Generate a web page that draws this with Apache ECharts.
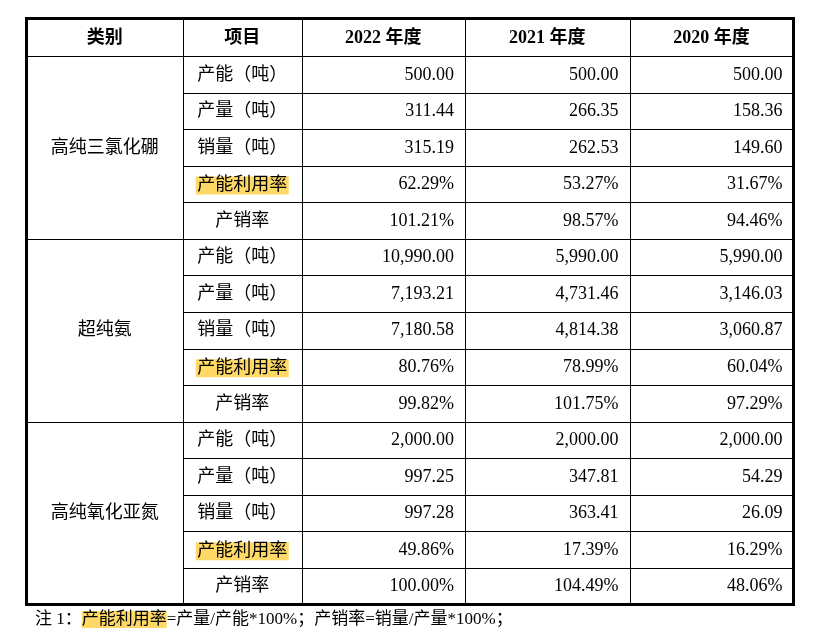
<!DOCTYPE html>
<html>
<head>
<meta charset="utf-8">
<script src="https://cdn.jsdelivr.net/npm/echarts@6/dist/echarts.min.js"></script>
<style>
html,body{margin:0;padding:0;background:#fff;}
#chart{width:825px;height:635px;}
</style>
</head>
<body>
<div id="chart"></div>
<script>
// ---- data ----
const headers = ['类别', '项目', '2022 年度', '2021 年度', '2020 年度'];
const categories = ['高纯三氯化硼', '超纯氨', '高纯氧化亚氮'];
const items = ['产能（吨）', '产量（吨）', '销量（吨）', '产能利用率', '产销率'];
const percentItems = ['产能利用率', '产销率'];
const highlightItems = ['产能利用率'];
const values2022 = [500.00, 311.44, 315.19, 62.29, 101.21, 10990.00, 7193.21, 7180.58, 80.76, 99.82, 2000.00, 997.25, 997.28, 49.86, 100.00];
const values2021 = [500.00, 266.35, 262.53, 53.27, 98.57, 5990.00, 4731.46, 4814.38, 78.99, 101.75, 2000.00, 347.81, 363.41, 17.39, 104.49];
const values2020 = [500.00, 158.36, 149.60, 31.67, 94.46, 5990.00, 3146.03, 3060.87, 60.04, 97.29, 2000.00, 54.29, 26.09, 16.29, 48.06];
const noteLead = '注 1：';
const noteHighlight = '产能利用率';
const noteRest = '=产量/产能*100%；产销率=销量/产量*100%；';

// ---- layout (axis units) ----
const colEdges = [0, 156.5, 275, 438.5, 603, 767];
const headerTop = -1.025;

const FONT_FAMILY = '"Liberation Serif", "Noto Sans CJK SC", serif';
const yearValues = [values2022, values2021, values2020];

function fmt(v, pct) {
  const s = v.toFixed(2);
  const parts = s.split('.');
  parts[0] = parts[0].replace(/\B(?=(\d{3})+(?!\d))/g, ',');
  return parts.join('.') + (pct ? '%' : '');
}

// build cell table
const cells = [];
headers.forEach((h, c) => {
  cells.push({c0: c, c1: c + 1, r0: headerTop, r1: 0, text: h, align: 'center', bold: true});
});
categories.forEach((cat, g) => {
  cells.push({c0: 0, c1: 1, r0: g * items.length, r1: (g + 1) * items.length, text: cat, align: 'center'});
  items.forEach((it, i) => {
    const r = g * items.length + i;
    cells.push({c0: 1, c1: 2, r0: r, r1: r + 1, text: it, align: 'center', hl: highlightItems.indexOf(it) >= 0});
    yearValues.forEach((vals, y) => {
      cells.push({c0: 2 + y, c1: 3 + y, r0: r, r1: r + 1,
        text: fmt(vals[r], percentItems.indexOf(it) >= 0), align: 'right'});
    });
  });
});
const nRows = categories.length * items.length;

const seriesData = cells.map(c => [colEdges[c.c0], c.r0, colEdges[c.c1], c.r1]);

function px(v) { return Math.round(v) + 0.5; }

function renderItem(params, api) {
  const cell = cells[params.dataIndex];
  const a = api.coord([api.value(0), api.value(1)]);
  const b = api.coord([api.value(2), api.value(3)]);
  const x0 = px(a[0]), y0 = px(a[1]), x1 = px(b[0]), y1 = px(b[1]);
  const children = [{
    type: 'rect',
    shape: {x: x0, y: y0, width: x1 - x0, height: y1 - y0},
    style: {fill: 'none', stroke: '#000', lineWidth: 1}
  }];
  const cy = (a[1] + b[1]) / 2;
  const tx = cell.align === 'right' ? b[0] - 11 : (a[0] + b[0]) / 2;
  const st = {
    text: cell.text,
    x: tx,
    y: cy + (cell.bold ? 1.5 : 0.5),
    align: cell.align,
    verticalAlign: 'middle',
    font: (cell.bold ? 'bold ' : '') + '18px ' + FONT_FAMILY,
    fill: '#000'
  };
  if (cell.hl) {
    st.backgroundColor = '#FFD966';
    st.padding = [0, 1.5, 0, 1.5];
    st.lineHeight = 18;
    st.y = cy + 1.5;
  }
  children.push({type: 'text', style: st});
  return {type: 'group', children: children};
}

const chart = echarts.init(document.getElementById('chart'), null, {renderer: 'canvas'});
chart.setOption({
  animation: false,
  backgroundColor: '#fff',
  grid: {
    left: 26.5, top: 18.5, width: 767, height: 586,
    show: true, borderColor: '#000', borderWidth: 3, backgroundColor: 'transparent'
  },
  xAxis: {type: 'value', min: colEdges[0], max: colEdges[colEdges.length - 1], show: false},
  yAxis: {type: 'value', min: headerTop, max: nRows, inverse: true, show: false},
  series: [{
    type: 'custom',
    renderItem: renderItem,
    clip: false,
    encode: {x: [0, 2], y: [1, 3]},
    data: seriesData,
    silent: true
  }],
  graphic: [{
    type: 'text',
    x: 35,
    y: 619.5,
    style: {
      text: noteLead + '{h|' + noteHighlight + '}' + noteRest,
      font: '17px ' + FONT_FAMILY,
      fill: '#000',
      verticalAlign: 'middle',
      rich: {
        h: {backgroundColor: '#FFD966', fontSize: 17, fontFamily: FONT_FAMILY, fill: '#000', lineHeight: 18}
      }
    }
  }]
});
</script>
</body>
</html>
